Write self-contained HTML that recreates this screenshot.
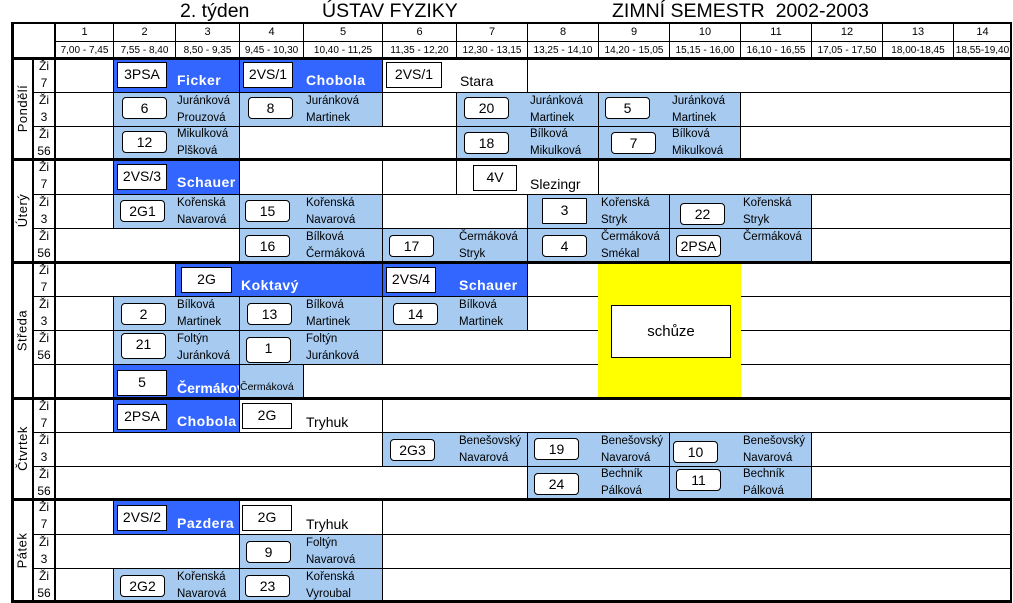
<!DOCTYPE html>
<html><head><meta charset="utf-8">
<style>
*{margin:0;padding:0;box-sizing:border-box}
body{width:1013px;height:603px;background:#fff;position:relative;overflow:hidden;font-family:"Liberation Sans",sans-serif;color:#000}
div{position:absolute}
.c{border:1px solid #000;background:#fff}
.d{background:#3366ff}
.l{background:#a6caf0}
.b{background:#fff;border:1px solid #000;font-size:14px;text-align:center;line-height:22px;height:26px;width:50px}
.r{background:#fff;border:1px solid #000;border-radius:4px;font-size:14px;text-align:center;line-height:20px;height:22px;width:45px}
.n{font-size:11.5px;line-height:17px;white-space:nowrap}
.w{font-size:14px;font-weight:bold;color:#fff;white-space:nowrap;letter-spacing:0.5px}
.t{font-size:14px;white-space:nowrap}
.h{font-size:19.5px;white-space:nowrap;top:0px}
.z{font-size:12px;line-height:17px;text-align:center;width:22px;left:33px}
.hd{font-size:11px;text-align:center;line-height:17px}
.tm{font-size:10px;text-align:center;line-height:17px;white-space:nowrap}
.k{background:#000}
.day{font-size:13px;text-align:center;line-height:21px;transform:rotate(-90deg);letter-spacing:0.5px}
</style></head><body>
<div class="h" style="left:180px">2. týden</div>
<div class="h" style="left:322px">ÚSTAV FYZIKY</div>
<div class="h" style="left:612px">ZIMNÍ SEMESTR&nbsp; 2002-2003</div>

<div class="c" style="left:12px;top:23px;width:44px;height:36px"></div>
<div class="c hd" style="left:55px;top:23px;width:59px;height:19px">1</div>
<div class="c hd" style="left:113px;top:23px;width:63px;height:19px">2</div>
<div class="c hd" style="left:175px;top:23px;width:65px;height:19px">3</div>
<div class="c hd" style="left:239px;top:23px;width:65px;height:19px">4</div>
<div class="c hd" style="left:303px;top:23px;width:80px;height:19px">5</div>
<div class="c hd" style="left:382px;top:23px;width:75px;height:19px">6</div>
<div class="c hd" style="left:456px;top:23px;width:72px;height:19px">7</div>
<div class="c hd" style="left:527px;top:23px;width:72px;height:19px">8</div>
<div class="c hd" style="left:598px;top:23px;width:72px;height:19px">9</div>
<div class="c hd" style="left:669px;top:23px;width:72px;height:19px">10</div>
<div class="c hd" style="left:740px;top:23px;width:72px;height:19px">11</div>
<div class="c hd" style="left:811px;top:23px;width:72px;height:19px">12</div>
<div class="c hd" style="left:882px;top:23px;width:72px;height:19px">13</div>
<div class="c hd" style="left:953px;top:23px;width:59px;height:19px">14</div>
<div class="c tm" style="left:55px;top:41px;width:59px;height:18px">7,00 - 7,45</div>
<div class="c tm" style="left:113px;top:41px;width:63px;height:18px">7,55 - 8,40</div>
<div class="c tm" style="left:175px;top:41px;width:65px;height:18px">8,50 - 9,35</div>
<div class="c tm" style="left:239px;top:41px;width:65px;height:18px">9,45 - 10,30</div>
<div class="c tm" style="left:303px;top:41px;width:80px;height:18px">10,40 - 11,25</div>
<div class="c tm" style="left:382px;top:41px;width:75px;height:18px">11,35 - 12,20</div>
<div class="c tm" style="left:456px;top:41px;width:72px;height:18px">12,30 - 13,15</div>
<div class="c tm" style="left:527px;top:41px;width:72px;height:18px">13,25 - 14,10</div>
<div class="c tm" style="left:598px;top:41px;width:72px;height:18px">14,20 - 15,05</div>
<div class="c tm" style="left:669px;top:41px;width:72px;height:18px">15,15 - 16,00</div>
<div class="c tm" style="left:740px;top:41px;width:72px;height:18px">16,10 - 16,55</div>
<div class="c tm" style="left:811px;top:41px;width:72px;height:18px">17,05 - 17,50</div>
<div class="c tm" style="left:882px;top:41px;width:72px;height:18px">18,00-18,45</div>
<div class="c tm" style="left:953px;top:41px;width:59px;height:18px">18,55-19,40</div>

<div class="c" style="left:33px;top:58px;width:23px;height:544px"></div>
<div class="c" style="left:33px;top:92px;width:23px;height:35px"></div>
<div class="c" style="left:33px;top:194px;width:23px;height:35px"></div>
<div class="c" style="left:33px;top:296px;width:23px;height:35px"></div>
<div class="c" style="left:33px;top:364px;width:23px;height:35px"></div>
<div class="c" style="left:33px;top:432px;width:23px;height:35px"></div>
<div class="c" style="left:33px;top:534px;width:23px;height:35px"></div>
<div class="z" style="top:58px">Ži<br>7</div>
<div class="z" style="top:92px">Ži<br>3</div>
<div class="z" style="top:126px">Ži<br>56</div>
<div class="z" style="top:159px">Ži<br>7</div>
<div class="z" style="top:194px">Ži<br>3</div>
<div class="z" style="top:228px">Ži<br>56</div>
<div class="z" style="top:262px">Ži<br>7</div>
<div class="z" style="top:296px">Ži<br>3</div>
<div class="z" style="top:330px">Ži<br>56</div>
<div class="z" style="top:398px">Ži<br>7</div>
<div class="z" style="top:432px">Ži<br>3</div>
<div class="z" style="top:466px">Ži<br>56</div>
<div class="z" style="top:499px">Ži<br>7</div>
<div class="z" style="top:534px">Ži<br>3</div>
<div class="z" style="top:568px">Ži<br>56</div>

<div class="day" style="left:-28px;top:98px;width:101px;height:21px">Pondělí</div>
<div class="day" style="left:-29px;top:200px;width:103px;height:21px">Úterý</div>
<div class="day" style="left:-46px;top:320px;width:136px;height:21px">Středa</div>
<div class="day" style="left:-28px;top:438px;width:101px;height:21px">Čtvrtek</div>
<div class="day" style="left:-29px;top:540px;width:102px;height:21px">Pátek</div>

<div class="c" style="left:55px;top:58px;width:59px;height:35px"></div>
<div class="c d" style="left:113px;top:58px;width:127px;height:35px"></div>
<div class="c d" style="left:239px;top:58px;width:144px;height:35px"></div>
<div class="c" style="left:382px;top:58px;width:146px;height:35px"></div>
<div class="c" style="left:527px;top:58px;width:484px;height:35px"></div>
<div class="b" style="left:117px;top:62px">3PSA</div><div class="w" style="left:177px;top:72px">Ficker</div>
<div class="b" style="left:243px;top:62px">2VS/1</div><div class="w" style="left:306px;top:72px">Chobola</div>
<div class="b" style="left:386px;top:62px;width:56px">2VS/1</div><div class="t" style="left:460px;top:73px">Stara</div>

<div class="c" style="left:55px;top:92px;width:59px;height:35px"></div>
<div class="c l" style="left:113px;top:92px;width:127px;height:35px"></div>
<div class="c l" style="left:239px;top:92px;width:144px;height:35px"></div>
<div class="c" style="left:382px;top:92px;width:75px;height:35px"></div>
<div class="c l" style="left:456px;top:92px;width:143px;height:35px"></div>
<div class="c l" style="left:598px;top:92px;width:143px;height:35px"></div>
<div class="c" style="left:740px;top:92px;width:271px;height:35px"></div>
<div class="r" style="left:122px;top:97px">6</div><div class="n" style="left:177px;top:93px">Juránková<br>Prouzová</div>
<div class="r" style="left:248px;top:97px">8</div><div class="n" style="left:306px;top:93px">Juránková<br>Martinek</div>
<div class="r" style="left:464px;top:97px">20</div><div class="n" style="left:530px;top:93px">Juránková<br>Martinek</div>
<div class="r" style="left:605px;top:97px">5</div><div class="n" style="left:672px;top:93px">Juránková<br>Martinek</div>

<div class="c" style="left:55px;top:126px;width:59px;height:34px"></div>
<div class="c l" style="left:113px;top:126px;width:127px;height:34px"></div>
<div class="c" style="left:239px;top:126px;width:218px;height:34px"></div>
<div class="c l" style="left:456px;top:126px;width:143px;height:34px"></div>
<div class="c l" style="left:598px;top:126px;width:143px;height:34px"></div>
<div class="c" style="left:740px;top:126px;width:271px;height:34px"></div>
<div class="r" style="left:122px;top:131px">12</div><div class="n" style="left:177px;top:126px">Mikulková<br>Plšková</div>
<div class="r" style="left:464px;top:132px">18</div><div class="n" style="left:530px;top:126px">Bílková<br>Mikulková</div>
<div class="r" style="left:611px;top:132px">7</div><div class="n" style="left:672px;top:126px">Bílková<br>Mikulková</div>

<div class="c" style="left:55px;top:159px;width:59px;height:36px"></div>
<div class="c d" style="left:113px;top:159px;width:127px;height:36px"></div>
<div class="c" style="left:239px;top:159px;width:144px;height:36px"></div>
<div class="c" style="left:382px;top:159px;width:75px;height:36px"></div>
<div class="c" style="left:456px;top:159px;width:143px;height:36px"></div>
<div class="c" style="left:598px;top:159px;width:413px;height:36px"></div>
<div class="b" style="left:117px;top:164px">2VS/3</div><div class="w" style="left:177px;top:174px">Schauer</div>
<div class="b" style="left:473px;top:165px;width:44px">4V</div><div class="t" style="left:530px;top:176px">Slezingr</div>

<div class="c" style="left:55px;top:194px;width:59px;height:35px"></div>
<div class="c l" style="left:113px;top:194px;width:127px;height:35px"></div>
<div class="c l" style="left:239px;top:194px;width:144px;height:35px"></div>
<div class="c" style="left:382px;top:194px;width:146px;height:35px"></div>
<div class="c l" style="left:527px;top:194px;width:143px;height:35px"></div>
<div class="c l" style="left:669px;top:194px;width:143px;height:35px"></div>
<div class="c" style="left:811px;top:194px;width:200px;height:35px"></div>
<div class="r" style="left:120px;top:200px">2G1</div><div class="n" style="left:177px;top:195px">Kořenská<br>Navarová</div>
<div class="r" style="left:245px;top:200px">15</div><div class="n" style="left:306px;top:195px">Kořenská<br>Navarová</div>
<div class="b" style="left:542px;top:198px;width:45px;height:26px;border-radius:1px">3</div><div class="n" style="left:601px;top:195px">Kořenská<br>Stryk</div>
<div class="r" style="left:680px;top:203px">22</div><div class="n" style="left:743px;top:195px">Kořenská<br>Stryk</div>

<div class="c" style="left:55px;top:228px;width:185px;height:35px"></div>
<div class="c l" style="left:239px;top:228px;width:144px;height:35px"></div>
<div class="c l" style="left:382px;top:228px;width:146px;height:35px"></div>
<div class="c l" style="left:527px;top:228px;width:143px;height:35px"></div>
<div class="c l" style="left:669px;top:228px;width:143px;height:35px"></div>
<div class="c" style="left:811px;top:228px;width:200px;height:35px"></div>
<div class="r" style="left:245px;top:235px">16</div><div class="n" style="left:306px;top:229px">Bílková<br>Čermáková</div>
<div class="r" style="left:389px;top:235px">17</div><div class="n" style="left:459px;top:229px">Čermáková<br>Stryk</div>
<div class="r" style="left:542px;top:235px">4</div><div class="n" style="left:601px;top:229px">Čermáková<br>Smékal</div>
<div class="r" style="left:676px;top:235px">2PSA</div><div class="n" style="left:743px;top:229px">Čermáková</div>

<div class="c" style="left:55px;top:262px;width:121px;height:35px"></div>
<div class="c d" style="left:175px;top:262px;width:208px;height:35px"></div>
<div class="c d" style="left:382px;top:262px;width:146px;height:35px"></div>
<div class="c" style="left:527px;top:262px;width:72px;height:35px"></div>
<div class="c" style="left:740px;top:262px;width:271px;height:35px"></div>
<div class="b" style="left:181px;top:267px;width:51px">2G</div><div class="w" style="left:241px;top:277px">Koktavý</div>
<div class="b" style="left:386px;top:267px">2VS/4</div><div class="w" style="left:459px;top:277px">Schauer</div>

<div class="c" style="left:55px;top:296px;width:59px;height:35px"></div>
<div class="c l" style="left:113px;top:296px;width:127px;height:35px"></div>
<div class="c l" style="left:239px;top:296px;width:144px;height:35px"></div>
<div class="c l" style="left:382px;top:296px;width:146px;height:35px"></div>
<div class="c" style="left:527px;top:296px;width:72px;height:35px"></div>
<div class="c" style="left:740px;top:296px;width:271px;height:35px"></div>
<div class="r" style="left:121px;top:303px">2</div><div class="n" style="left:177px;top:297px">Bílková<br>Martinek</div>
<div class="r" style="left:247px;top:303px">13</div><div class="n" style="left:306px;top:297px">Bílková<br>Martinek</div>
<div class="r" style="left:393px;top:303px">14</div><div class="n" style="left:459px;top:297px">Bílková<br>Martinek</div>

<div class="c" style="left:55px;top:330px;width:59px;height:35px"></div>
<div class="c l" style="left:113px;top:330px;width:127px;height:35px"></div>
<div class="c l" style="left:239px;top:330px;width:144px;height:35px"></div>
<div class="c" style="left:382px;top:330px;width:217px;height:35px"></div>
<div class="c" style="left:740px;top:330px;width:271px;height:35px"></div>
<div class="r" style="left:121px;top:333px;height:26px">21</div><div class="n" style="left:177px;top:331px">Foltýn<br>Juránková</div>
<div class="r" style="left:246px;top:337px;height:26px">1</div><div class="n" style="left:306px;top:331px">Foltýn<br>Juránková</div>

<div class="c" style="left:55px;top:364px;width:59px;height:35px"></div>
<div class="c d" style="left:113px;top:364px;width:127px;height:35px"></div>
<div class="c" style="left:303px;top:364px;width:296px;height:35px"></div>
<div class="c" style="left:740px;top:364px;width:271px;height:35px"></div>
<div class="b" style="left:117px;top:370px">5</div><div class="w" style="left:177px;top:380px;font-size:14px;letter-spacing:0">Čermáková</div>
<div class="c l" style="left:239px;top:364px;width:65px;height:35px;overflow:hidden"><div style="left:0px;top:16px;font-size:10.5px;white-space:nowrap">Čermáková</div></div>

<div style="left:598px;top:262px;width:143px;height:137px;background:#ffff00"></div>
<div class="b" style="left:611px;top:305px;width:120px;height:53px;line-height:51px;font-size:15px">schůze</div>

<div class="c" style="left:55px;top:398px;width:59px;height:35px"></div>
<div class="c d" style="left:113px;top:398px;width:127px;height:35px"></div>
<div class="c" style="left:239px;top:398px;width:144px;height:35px"></div>
<div class="c" style="left:382px;top:398px;width:629px;height:35px"></div>
<div class="b" style="left:117px;top:404px">2PSA</div><div class="w" style="left:177px;top:413px">Chobola</div>
<div class="b" style="left:242px;top:403px">2G</div><div class="t" style="left:306px;top:414px">Tryhuk</div>

<div class="c" style="left:55px;top:432px;width:328px;height:35px"></div>
<div class="c l" style="left:382px;top:432px;width:146px;height:35px"></div>
<div class="c l" style="left:527px;top:432px;width:143px;height:35px"></div>
<div class="c l" style="left:669px;top:432px;width:143px;height:35px"></div>
<div class="c" style="left:811px;top:432px;width:200px;height:35px"></div>
<div class="r" style="left:390px;top:439px">2G3</div><div class="n" style="left:459px;top:433px">Benešovský<br>Navarová</div>
<div class="r" style="left:534px;top:438px">19</div><div class="n" style="left:601px;top:433px">Benešovský<br>Navarová</div>
<div class="r" style="left:673px;top:441px">10</div><div class="n" style="left:743px;top:433px">Benešovský<br>Navarová</div>

<div class="c" style="left:55px;top:466px;width:473px;height:34px"></div>
<div class="c l" style="left:527px;top:466px;width:143px;height:34px"></div>
<div class="c l" style="left:669px;top:466px;width:143px;height:34px"></div>
<div class="c" style="left:811px;top:466px;width:200px;height:34px"></div>
<div class="r" style="left:534px;top:473px">24</div><div class="n" style="left:601px;top:466px">Bechník<br>Pálková</div>
<div class="r" style="left:676px;top:469px">11</div><div class="n" style="left:743px;top:466px">Bechník<br>Pálková</div>

<div class="c" style="left:55px;top:499px;width:59px;height:36px"></div>
<div class="c d" style="left:113px;top:499px;width:127px;height:36px"></div>
<div class="c" style="left:239px;top:499px;width:144px;height:36px"></div>
<div class="c" style="left:382px;top:499px;width:629px;height:36px"></div>
<div class="b" style="left:117px;top:505px">2VS/2</div><div class="w" style="left:177px;top:515px">Pazdera</div>
<div class="b" style="left:242px;top:505px">2G</div><div class="t" style="left:306px;top:516px">Tryhuk</div>

<div class="c" style="left:55px;top:534px;width:185px;height:35px"></div>
<div class="c l" style="left:239px;top:534px;width:144px;height:35px"></div>
<div class="c" style="left:382px;top:534px;width:629px;height:35px"></div>
<div class="r" style="left:246px;top:541px">9</div><div class="n" style="left:306px;top:535px">Foltýn<br>Navarová</div>

<div class="c" style="left:55px;top:568px;width:59px;height:34px"></div>
<div class="c l" style="left:113px;top:568px;width:127px;height:34px"></div>
<div class="c l" style="left:239px;top:568px;width:144px;height:34px"></div>
<div class="c" style="left:382px;top:568px;width:629px;height:34px"></div>
<div class="r" style="left:120px;top:575px">2G2</div><div class="n" style="left:177px;top:569px">Kořenská<br>Navarová</div>
<div class="r" style="left:245px;top:575px">23</div><div class="n" style="left:306px;top:569px">Kořenská<br>Vyroubal</div>

<div class="k" style="left:12px;top:22px;width:1000px;height:2px"></div>
<div class="k" style="left:12px;top:57px;width:1000px;height:3px"></div>
<div class="k" style="left:12px;top:158px;width:1000px;height:3px"></div>
<div class="k" style="left:12px;top:261px;width:1000px;height:3px"></div>
<div class="k" style="left:12px;top:397px;width:1000px;height:3px"></div>
<div class="k" style="left:12px;top:498px;width:1000px;height:3px"></div>
<div class="k" style="left:12px;top:600px;width:1000px;height:3px"></div>
<div class="k" style="left:11px;top:22px;width:3px;height:581px"></div>
<div class="k" style="left:32px;top:58px;width:2px;height:545px"></div>
<div class="k" style="left:54px;top:22px;width:2px;height:581px"></div>
<div class="k" style="left:1010px;top:22px;width:2px;height:581px"></div>
</body></html>
